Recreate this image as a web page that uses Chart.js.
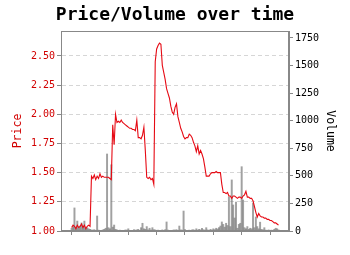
<!DOCTYPE html>
<html>
<head>
<meta charset="utf-8">
<script src="https://cdn.jsdelivr.net/npm/chart.js@4/dist/chart.umd.min.js"></script>
<style>
html,body{margin:0;padding:0;background:#fff;}
#c{display:block;}
</style>
</head>
<body>
<canvas id="c" width="350" height="255"></canvas>
<script>
// Price series (one value per trading period, left axis)
const prices = [
  1.03,1.05,1.04,1.02,1.05,1.03,1.04,1.06,1.03,1.05,1.02,1.04,1.05,1.04,
  1.47,1.45,1.48,1.44,1.47,1.45,1.49,1.46,1.47,1.46,1.46,1.46,1.46,1.45,
  1.44,1.91,1.74,2.00,1.93,1.94,1.93,1.95,1.93,1.92,1.91,1.90,1.89,1.88,1.88,1.87,1.87,1.86,1.95,1.80,1.80,1.79,1.82,1.89,1.69,1.46,1.45,1.46,1.44,1.45,1.40,
  2.45,2.56,2.59,2.61,2.60,2.42,2.36,2.30,2.22,2.18,2.14,2.07,2.02,2.00,
  2.06,2.09,1.98,1.93,1.88,1.85,1.81,1.79,1.80,1.80,1.83,1.82,1.80,1.76,1.73,1.68,1.73,1.66,1.69,1.66,1.62,1.55,1.47,1.47,
  1.47,1.49,1.50,1.50,1.50,1.51,1.50,1.50,1.50,
  1.40,1.33,1.33,1.32,1.33,1.30,1.30,1.28,1.30,1.30,1.29,1.28,1.29,1.29,1.28,1.30,1.31,1.34,1.29,1.29,1.28,1.28,1.26,1.21,1.16,1.12,1.15,1.13,1.12,1.12,1.11,1.11,1.10,1.10,1.09,1.09,1.08,1.07,1.07,1.06,1.05
];
// Volume series (right axis)
const volumes = [
  25,40,209,35,90,30,45,73,40,90,25,30,20,15,
  10,8,12,5,136,8,5,6,10,15,25,698,30,20,
  600,35,54,15,10,5,8,
  6,4,5,10,8,20,6,5,4,12,8,10,15,5,30,
  70,20,15,40,10,25,8,30,12,10,
  5,8,4,6,10,5,12,
  82,8,5,6,4,10,8,12,6,45,10,8,181,12,6,5,
  8,5,10,12,6,20,8,15,10,25,12,8,30,10,6,15,8,20,12,25,18,30,
  45,82,60,35,70,50,310,40,463,236,118,263,25,60,70,583,281,30,20,40,15,25,20,254,30,127,40,20,80,15,10,30,8,6,10,5,8,4,15,25,20,10
];
// Period index for each observation (categories)
const periods = prices.map((_, i) => i);
const periodTicks = [0, 20, 40, 60, 80, 100, 120, 140];
const priceTicks = [1.00, 1.25, 1.50, 1.75, 2.00, 2.25, 2.50];
const volumeTicks = [0, 250, 500, 750, 1000, 1250, 1500, 1750];

const priceData = periods.map((p, i) => ({x: p, y: prices[i]}));
const volumeData = periods.map((p, i) => ({x: p, y: volumes[i]}));

const MONO = "'DejaVu Sans Mono', 'Liberation Mono', monospace";
const RED = 'rgb(210,0,0)';
const AXIS = '#888';

const framePlugin = {
  id: 'frame',
  afterDraw(chart) {
    const {ctx, chartArea: a} = chart;
    ctx.save();
    ctx.strokeStyle = AXIS;
    ctx.lineWidth = 1;
    ctx.strokeRect(Math.round(a.left) + 0.5, Math.round(a.top) + 0.5,
      Math.round(a.right - a.left) - 1, Math.round(a.bottom - a.top) - 1);
    ctx.restore();
  }
};

new Chart(document.getElementById('c'), {
  type: 'line',
  data: {
    datasets: [
      {
        type: 'line',
        label: 'Price',
        data: priceData,
        yAxisID: 'y',
        borderColor: 'rgb(230,10,20)',
        borderWidth: 1.1,
        pointRadius: 0,
        tension: 0,
        fill: false,
        order: 1
      },
      {
        type: 'bar',
        label: 'Volume',
        data: volumeData,
        yAxisID: 'y2',
        backgroundColor: 'rgba(110,110,110,0.65)',
        borderWidth: 0,
        barThickness: 1.3,
        grouped: false,
        order: 2
      }
    ]
  },
  options: {
    responsive: false,
    animation: false,
    devicePixelRatio: 1,
    layout: {padding: 0},
    plugins: {
      legend: {display: false},
      tooltip: {enabled: false},
      title: {
        display: true,
        text: 'Price/Volume over time',
        color: '#000',
        font: {family: MONO, size: 18, weight: 'bold', lineHeight: 1.2},
        padding: {top: 5, bottom: 4.4}
      }
    },
    scales: {
      x: {
        type: 'linear',
        position: 'bottom',
        bounds: 'data',
        offset: false,
        min: -7.5,
        max: 153.4,
        afterBuildTicks(s) { s.ticks = periodTicks.map(v => ({value: v})); },
        ticks: {callback: () => '', font: {family: MONO, size: 10}},
        grid: {offset: false, drawOnChartArea: false, drawTicks: true, tickLength: 4, color: AXIS, tickColor: AXIS},
        border: {display: true, color: AXIS},
        afterFit(s) { s.height = 24; }
      },
      y: {
        type: 'linear',
        position: 'left',
        bounds: 'data',
        min: 1.0,
        max: 2.714,
        afterBuildTicks(s) { s.ticks = priceTicks.map(v => ({value: v})); },
        ticks: {
          color: RED,
          padding: 2,
          font: {family: MONO, size: 10},
          callback: v => Number(v).toFixed(2)
        },
        grid: {
          drawOnChartArea: true,
          color: '#d6d6d6',
          tickColor: AXIS,
          tickLength: 4,
          tickBorderDash: [],
        },
        border: {display: true, color: AXIS, dash: [4, 3]},
        title: {
          display: true,
          text: 'Price',
          color: RED,
          font: {family: MONO, size: 11.5, lineHeight: 1.2},
          padding: {top: 11, bottom: 0}
        },
        afterFit(s) { s.width = 61; }
      },
      y2: {
        type: 'linear',
        position: 'right',
        bounds: 'data',
        min: 0,
        max: 1813,
        afterBuildTicks(s) { s.ticks = volumeTicks.map(v => ({value: v})); },
        ticks: {
          color: '#000',
          padding: 2,
          font: {family: MONO, size: 10},
          callback: v => String(v)
        },
        grid: {drawOnChartArea: false, drawTicks: true, tickLength: 4, color: AXIS, tickColor: AXIS},
        border: {display: true, color: AXIS},
        title: {
          display: true,
          text: 'Volume',
          color: '#000',
          font: {family: MONO, size: 11.5, lineHeight: 1.2},
          padding: {top: 13, bottom: 0}
        },
        afterFit(s) { s.width = 61; }
      }
    }
  },
  plugins: [framePlugin]
});
</script>
</body>
</html>
